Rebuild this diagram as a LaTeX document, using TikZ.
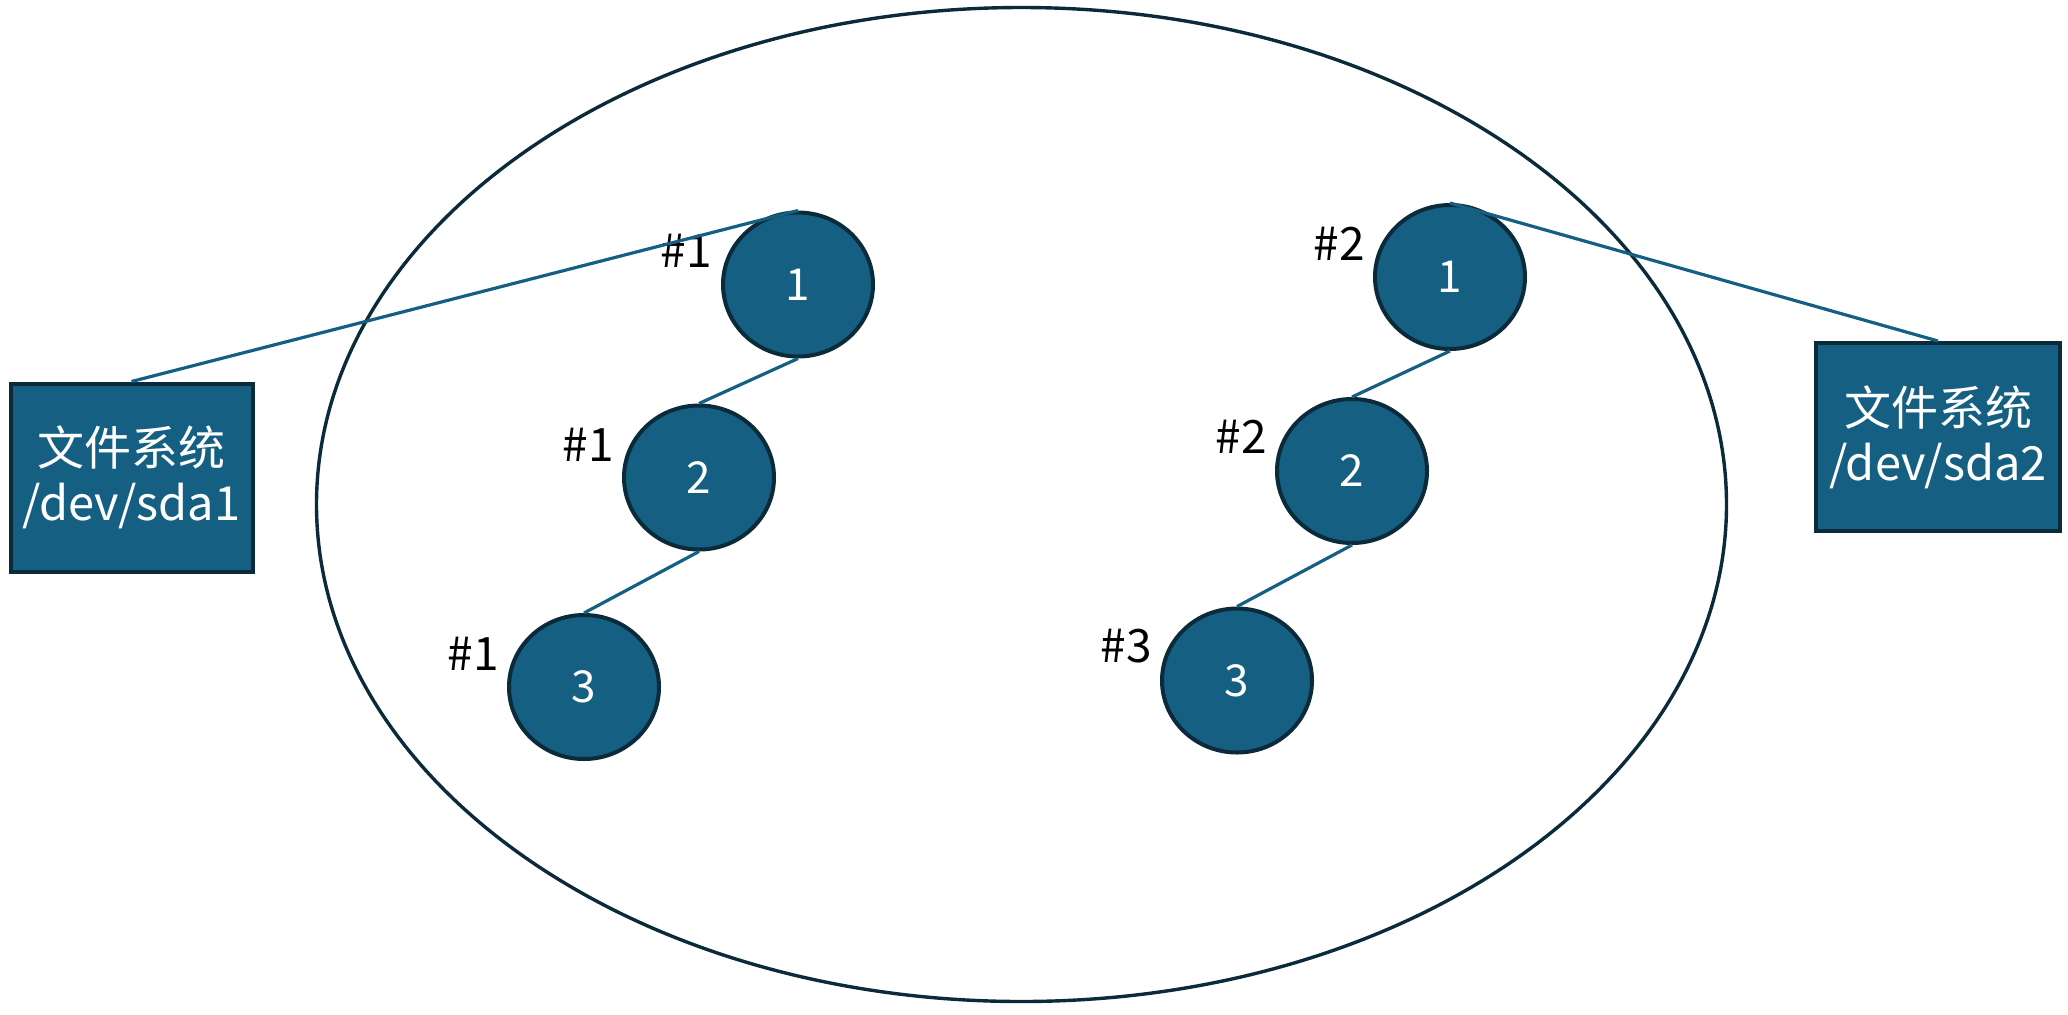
\documentclass[tikz,border=0pt]{standalone}
\usepackage{fontspec}
\setmainfont{Noto Sans CJK SC}
\usetikzlibrary{shapes.geometric}
\definecolor{acc}{HTML}{156082}
\definecolor{edge}{HTML}{0B2A3A}
\tikzset{
  px/.style={x=0.5pt,y=-0.5pt},
  inode/.style={ellipse,draw=edge,line width=2pt,fill=acc,minimum width=75pt,minimum height=72pt,inner sep=0pt,text=white,font=\fontsize{22}{26}\selectfont},
  fsbox/.style={rectangle,draw=edge,line width=2pt,fill=acc,inner sep=0pt,text=white,align=center,font=\fontsize{23.5}{27.5}\selectfont},
  tag/.style={text=black,inner sep=0pt,font=\fontsize{23}{26}\selectfont},
  link/.style={draw=acc,line width=1.6pt},
}
\begin{document}
\begin{tikzpicture}[px]
\useasboundingbox (0,0) rectangle (2068,1014);
\node[draw=edge,line width=1.7pt,ellipse,minimum width=705pt,minimum height=497pt,inner sep=0pt] (group) at (1021.5,504.5) {};
\node[fsbox,minimum width=121pt,minimum height=94pt] (fs1) at (131.5,477.5) {文件系统\\/dev/sda1};
\node[fsbox,minimum width=122pt,minimum height=94pt] (fs2) at (1938,437) {文件系统\\/dev/sda2};
\node[inode] (a1) at (798,284.5) {1};
\node[inode] (a2) at (699,477.5) {2};
\node[inode] (a3) at (584,687) {3};
\node[inode] (b1) at (1450,277) {1};
\node[inode] (b2) at (1352,471) {2};
\node[inode] (b3) at (1237,680.5) {3};
\node[tag] (ta1) at (686,251) {\#1};
\node[tag] (ta2) at (588,444.5) {\#1};
\node[tag] (ta3) at (473.5,654) {\#1};
\node[tag] (tb1) at (1339,244) {\#2};
\node[tag] (tb2) at (1241,436.5) {\#2};
\node[tag] (tb3) at (1126,646) {\#3};
\draw[link] (fs1.north) -- (a1.north);
\draw[link] (a1.south) -- (a2.north);
\draw[link] (a2.south) -- (a3.north);
\draw[link] (b1.north) -- (fs2.north);
\draw[link] (b1.south) -- (b2.north);
\draw[link] (b2.south) -- (b3.north);
\end{tikzpicture}
\end{document}
